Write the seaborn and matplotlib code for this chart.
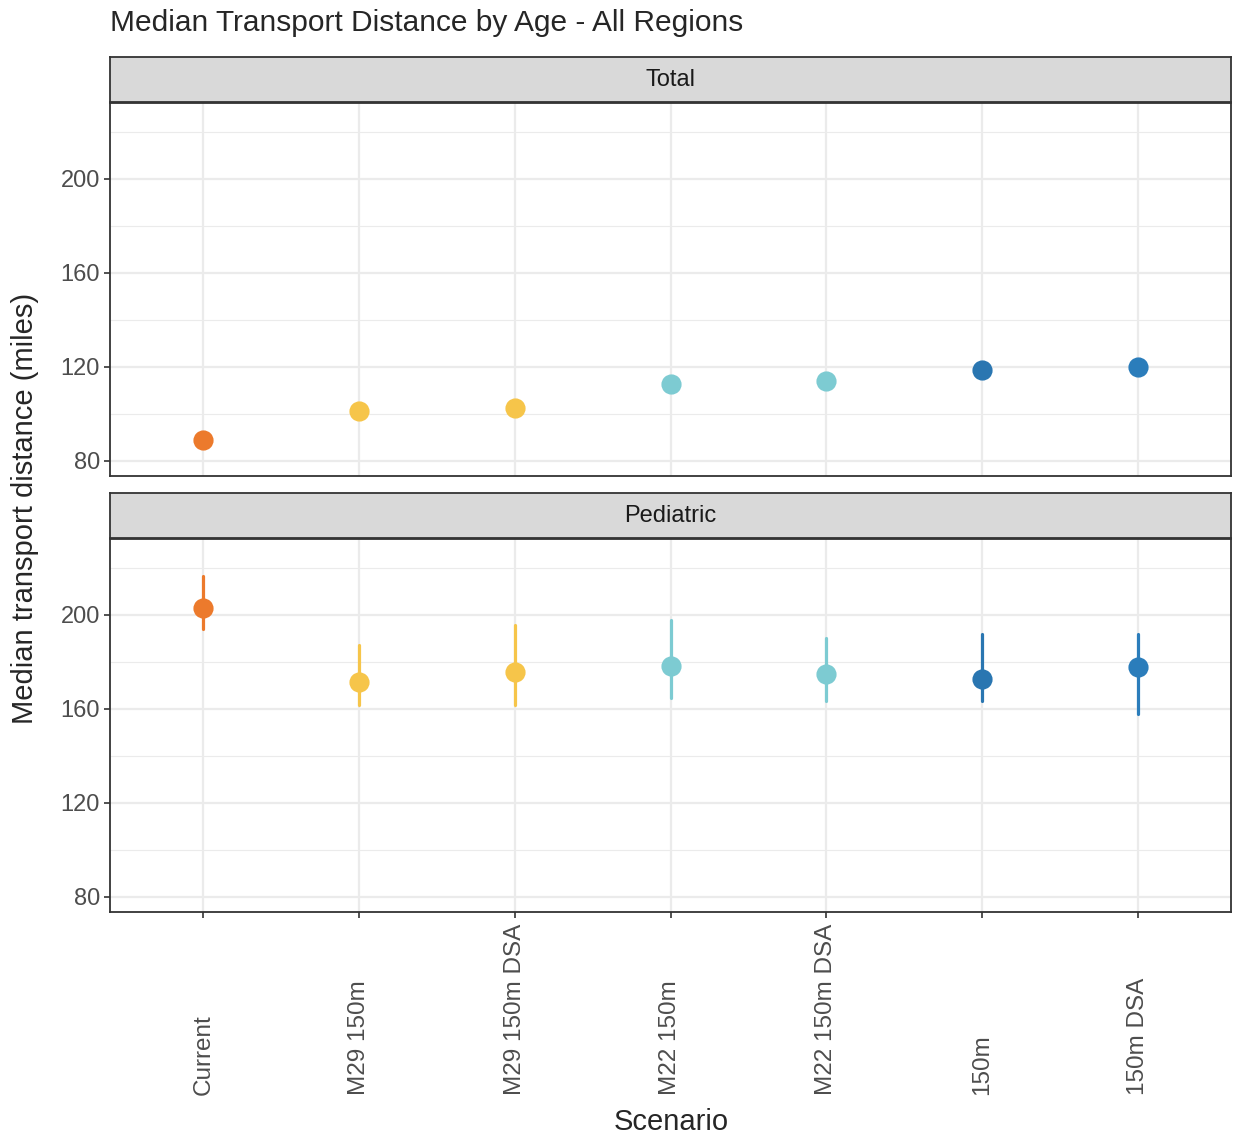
import numpy as np
import pandas as pd
import matplotlib
matplotlib.use("Agg")
import matplotlib.pyplot as plt
import seaborn as sns

scenarios = ["Current", "M29 150m", "M29 150m DSA", "M22 150m",
             "M22 150m DSA", "150m", "150m DSA"]
colors = ["#EC7A2C", "#F6C54A", "#F6C54A", "#7DCBD2",
          "#7DCBD2", "#2A76B1", "#2B7DBB"]

# Total panel (median only)
total_med = [88.9, 101.3, 102.5, 112.8, 114.0, 118.7, 120.0]
# Pediatric panel (median with interval)
ped_med = [203.0, 171.5, 175.7, 178.3, 174.9, 172.8, 177.9]
ped_lo = [194.0, 161.5, 161.5, 164.5, 163.5, 163.5, 158.0]
ped_hi = [216.5, 187.0, 195.5, 198.0, 190.0, 192.0, 192.0]

facets = ["Total", "Pediatric"]

rows = []
for s, m in zip(scenarios, total_med):
    for v in (m, m, m):
        rows.append({"facet": "Total", "scenario": s, "value": v})
for s, lo, m, hi in zip(scenarios, ped_lo, ped_med, ped_hi):
    for v in (lo, m, hi):
        rows.append({"facet": "Pediatric", "scenario": s, "value": v})
df = pd.DataFrame(rows)

sns.set_style("white")
plt.rcParams["font.family"] = ["Liberation Sans", "DejaVu Sans"]

W, H = 1236, 1139
fig = plt.figure(figsize=(W / 100, H / 100), dpi=100)

panel_px = {"Total": (57, 102, 103, 476), "Pediatric": (493, 538, 539, 912)}
left, right = 110, 1231
pal = dict(zip(scenarios, colors))
border = "#333333"

for i, f in enumerate(facets):
    st, sb, pt, pb = panel_px[f]
    ax = fig.add_axes([left / W, 1 - pb / H, (right - left) / W, (pb - pt) / H])
    sns.pointplot(data=df[df["facet"] == f], x="scenario", y="value",
                  hue="scenario", palette=pal, order=scenarios,
                  hue_order=scenarios, estimator="median",
                  errorbar=lambda v: (v.min(), v.max()),
                  linestyle="none", markersize=12.5,
                  err_kws={"linewidth": 2.3}, legend=False, ax=ax)
    ax.set_xlim(-0.6, 6.6)
    ax.set_ylim(73.6, 232.3)
    ax.set_yticks([80, 120, 160, 200])
    ax.set_yticks([100, 140, 180, 220], minor=True)
    ax.set_axisbelow(True)
    ax.grid(which="major", color="#EBEBEB", linewidth=1.6)
    ax.grid(which="minor", color="#EBEBEB", linewidth=0.8)
    for sp in ax.spines.values():
        sp.set_color(border)
        sp.set_linewidth(1.3)
    ax.set_xlabel("")
    ax.set_ylabel("")
    ax.tick_params(axis="y", which="major", direction="out", length=4.3,
                   width=1.2, color=border, labelsize=17, labelcolor="#4D4D4D",
                   left=True, pad=3)
    ax.tick_params(axis="y", which="minor", left=False)
    if f == "Total":
        ax.tick_params(axis="x", bottom=False, labelbottom=False)
    else:
        ax.tick_params(axis="x", direction="out", length=4.3, width=1.2,
                       color=border, labelsize=17.5, labelcolor="#4D4D4D",
                       bottom=True, pad=127.5)
        ax.set_xticks(range(len(scenarios)))
        ax.set_xticklabels(scenarios, rotation=90, rotation_mode="anchor",
                           ha="left", va="center")

    sax = fig.add_axes([left / W, 1 - sb / H, (right - left) / W, (sb - st) / H])
    sax.set_facecolor("#D9D9D9")
    sax.set_xticks([])
    sax.set_yticks([])
    for sp in sax.spines.values():
        sp.set_color(border)
        sp.set_linewidth(1.3)
    sax.text(0.5, 0.5, f, ha="center", va="center", fontsize=17,
             color="#1A1A1A", transform=sax.transAxes)

fig.text(110 / W, 1 - 23 / H, "Median Transport Distance by Age - All Regions",
         ha="left", va="center", fontsize=21.5)
fig.text(25 / W, 1 - 508 / H, "Median transport distance (miles)",
         ha="center", va="center", rotation=90, fontsize=21)
fig.text(671 / W, 1 - 1122 / H, "Scenario", ha="center", va="center",
         fontsize=21)

fig.savefig("out.png", dpi=100)
